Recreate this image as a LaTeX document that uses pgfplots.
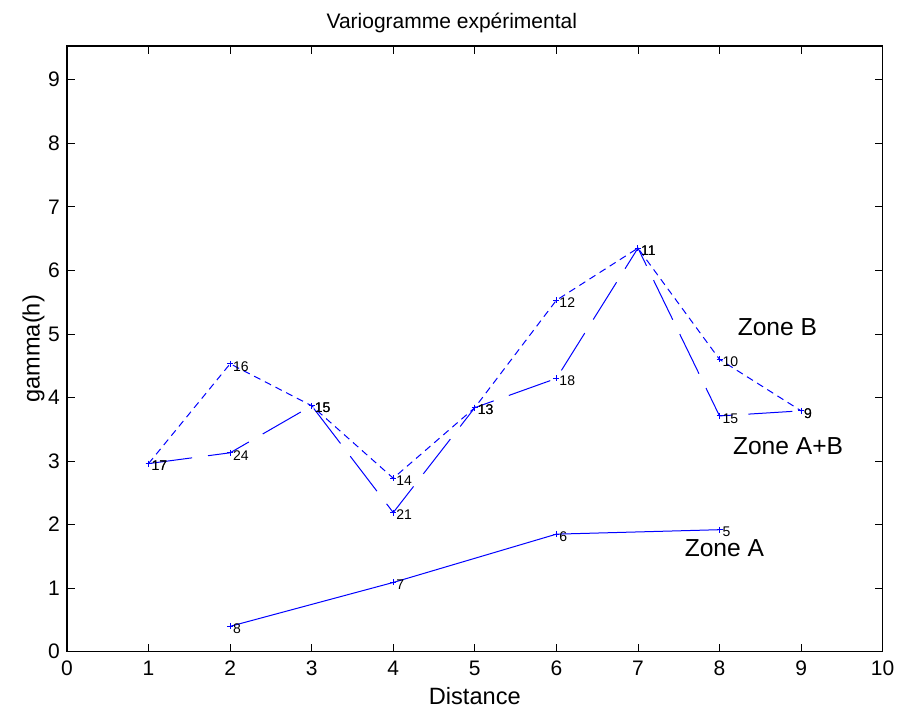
\documentclass[border=0pt]{standalone}
\usepackage{fontspec}
\setmainfont{Liberation Sans}
\usepackage{pgfplots}
\pgfplotsset{compat=1.18}
\begin{document}
\begin{tikzpicture}
\begin{axis}[
  width=408pt, height=303pt, scale only axis,
  xmin=0, xmax=10, ymin=0, ymax=9.53,
  xtick={0,...,10}, ytick={0,...,9},
  tick align=inside, major tick length=4pt,
  tick style={black, line width=0.4pt},
  axis line style={black, line width=0.6pt},
  /pgf/number format/assume math mode=true,
  tick label style={font=\fontsize{10.5}{12}\selectfont},
  xticklabel style={yshift=-1pt},
  title={Variogramme expérimental},
  title style={font=\fontsize{10.5}{12}\selectfont, yshift=-3pt, xshift=-11.5pt},
  xlabel={Distance}, ylabel={gamma(h)},
  label style={font=\fontsize{11.8}{13}\selectfont},
  xlabel style={yshift=1pt},
  ylabel style={yshift=-5pt},
  clip=false,
  point meta=explicit symbolic,
  nodes near coords,
  every node near coord/.style={anchor=west, text=black, font=\fontsize{7}{8}\selectfont, inner sep=0.5pt, xshift=0.8pt, yshift=-1.2pt},
]
% Zone B
\addplot[blue, line width=0.5pt, dash pattern=on 3.5pt off 2.5pt, mark=+, mark size=1.5pt, mark options={solid}] table[meta=l] {
x y l
1 2.96 17
2 4.53 16
3 3.87 15
4 2.73 14
5 3.84 13
6 5.53 12
7 6.35 11
8 4.60 10
9 3.79 9
};
% Zone A+B
\addplot[blue, line width=0.5pt, dash pattern=on 22pt off 8pt, mark=+, mark size=1.5pt, mark options={solid}] table[meta=l] {
x y l
1 2.96 17
2 3.13 24
3 3.87 15
4 2.19 21
5 3.84 13
6 4.30 18
7 6.35 11
8 3.71 15
9 3.79 9
};
% Zone A
\addplot[blue, line width=0.5pt, mark=+, mark size=1.5pt] table[meta=l] {
x y l
2 0.40 8
4 1.09 7
6 1.85 6
8 1.92 5
};
\node[font=\fontsize{12.3}{14}\selectfont] at (axis cs:8.71,5.11) {Zone B};
\node[font=\fontsize{12.3}{14}\selectfont] at (axis cs:8.84,3.24) {Zone A+B};
\node[font=\fontsize{12.3}{14}\selectfont] at (axis cs:8.06,1.63) {Zone A};
\coordinate (ll) at (rel axis cs:0,0);
\coordinate (ur) at (rel axis cs:1,1);
\end{axis}
\path ([shift={(-33.5pt,-30pt)}]ll) rectangle ([shift={(8.5pt,23pt)}]ur);
\end{tikzpicture}
\end{document}
